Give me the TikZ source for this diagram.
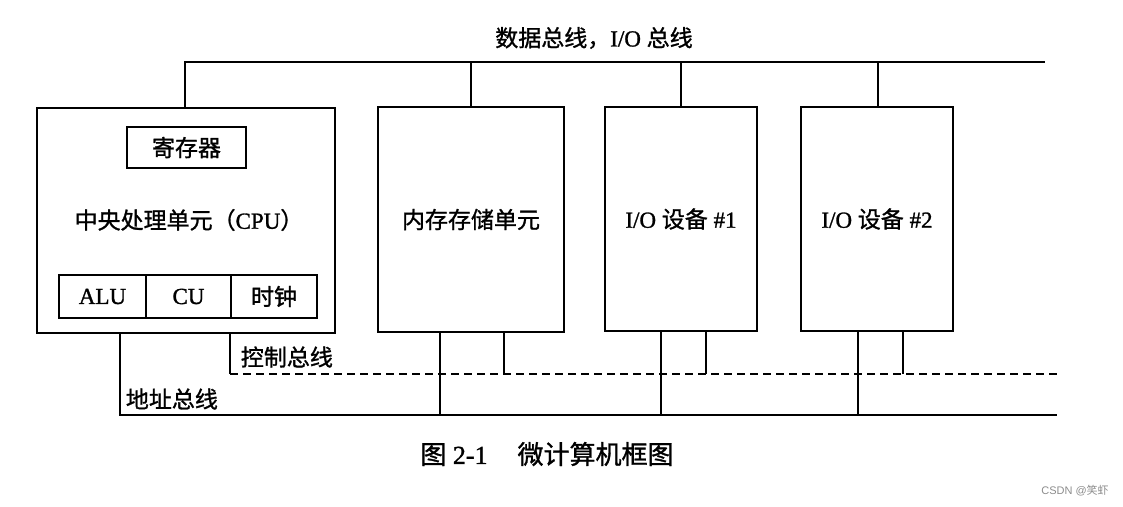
\documentclass[tikz,border=0pt]{standalone}
\usepackage{fontspec}
\setmainfont[FakeBold=1.2]{Liberation Serif}
\newfontfamily\cjk[FakeBold=1.2]{Noto Sans CJK SC}
\newfontfamily\wmfont{Liberation Sans}
\newfontfamily\wmcjk{Noto Sans CJK SC}
\begin{document}
\begin{tikzpicture}[x=1pt,y=-1pt,
  line width=1.8pt,
  box/.style={draw, line width=1.8pt, inner sep=0pt, font=\fontsize{23}{27}\selectfont},
  lbl/.style={inner sep=0pt, font=\fontsize{23}{27}\selectfont},
  ctl/.style={dash pattern=on 8pt off 5pt},
]
\useasboundingbox (0,0) rectangle (1123,506);

% boxes
\node[box, minimum width=298, minimum height=225] (cpu) at (186,220.5) {};
\node[box, minimum width=119, minimum height=41] (reg) at (186.5,147.5) {\cjk 寄存器};
\node[lbl] (cpulbl) at (189,220) {{\cjk 中央处理单元（}CPU{\cjk ）}};
\node[box, minimum width=87, minimum height=43] (alu) at (102.5,296.5) {ALU};
\node[box, minimum width=85, minimum height=43] (cu) at (188.5,296.5) {CU};
\node[box, minimum width=86, minimum height=43] (clk) at (274,296.5) {\cjk 时钟};

\node[box, minimum width=186, minimum height=225] (mem) at (471,219.5) {\cjk 内存存储单元};
\node[box, minimum width=152, minimum height=224] (io1) at (681,219) {I/O {\cjk 设备} \#1};
\node[box, minimum width=152, minimum height=224] (io2) at (877,219) {I/O {\cjk 设备} \#2};

% data bus
\coordinate (dbL) at (185,62);
\coordinate (dbR) at (1045,62);
\coordinate (memd) at (471,62);
\coordinate (io1d) at (681,62);
\coordinate (io2d) at (878,62);
\draw (cpu.north -| dbL) -- (dbL) -- (dbR);
\draw (mem.north -| memd) -- (memd);
\draw (io1.north -| io1d) -- (io1d);
\draw (io2.north -| io2d) -- (io2d);
\node[lbl] (dblbl) at (594,38) {{\cjk 数据总线，}I/O {\cjk 总线}};

% control bus
\coordinate (ctlL) at (230,374);
\coordinate (ctlR) at (1057,374);
\coordinate (memc) at (504,374);
\coordinate (io1c) at (706,374);
\coordinate (io2c) at (903,374);
\draw (cpu.south -| ctlL) -- (ctlL);
\draw[ctl] (ctlL) -- (ctlR);
\draw (mem.south -| memc) -- (memc);
\draw (io1.south -| io1c) -- (io1c);
\draw (io2.south -| io2c) -- (io2c);
\node[lbl, anchor=west] (ctllbl) at (240,357) {\cjk 控制总线};

% address bus
\coordinate (adL) at (120,415);
\coordinate (adR) at (1057,415);
\coordinate (mema) at (440,415);
\coordinate (io1a) at (661,415);
\coordinate (io2a) at (858,415);
\draw (cpu.south -| adL) -- (adL) -- (adR);
\draw (mem.south -| mema) -- (mema);
\draw (io1.south -| io1a) -- (io1a);
\draw (io2.south -| io2a) -- (io2a);
\node[lbl, anchor=west] (adlbl) at (125,399) {\cjk 地址总线};

% caption
\node[inner sep=0pt, font=\fontsize{26}{30}\selectfont] (cap) at (547,454) {{\cjk 图} 2-1\hspace{30pt}{\cjk 微计算机框图}};

% watermark
\node[inner sep=0pt, text=black!45, font=\fontsize{11}{13}\selectfont] (wm) at (1075,491) {{\wmfont CSDN @}{\wmcjk 笑虾}};
\end{tikzpicture}
\end{document}
